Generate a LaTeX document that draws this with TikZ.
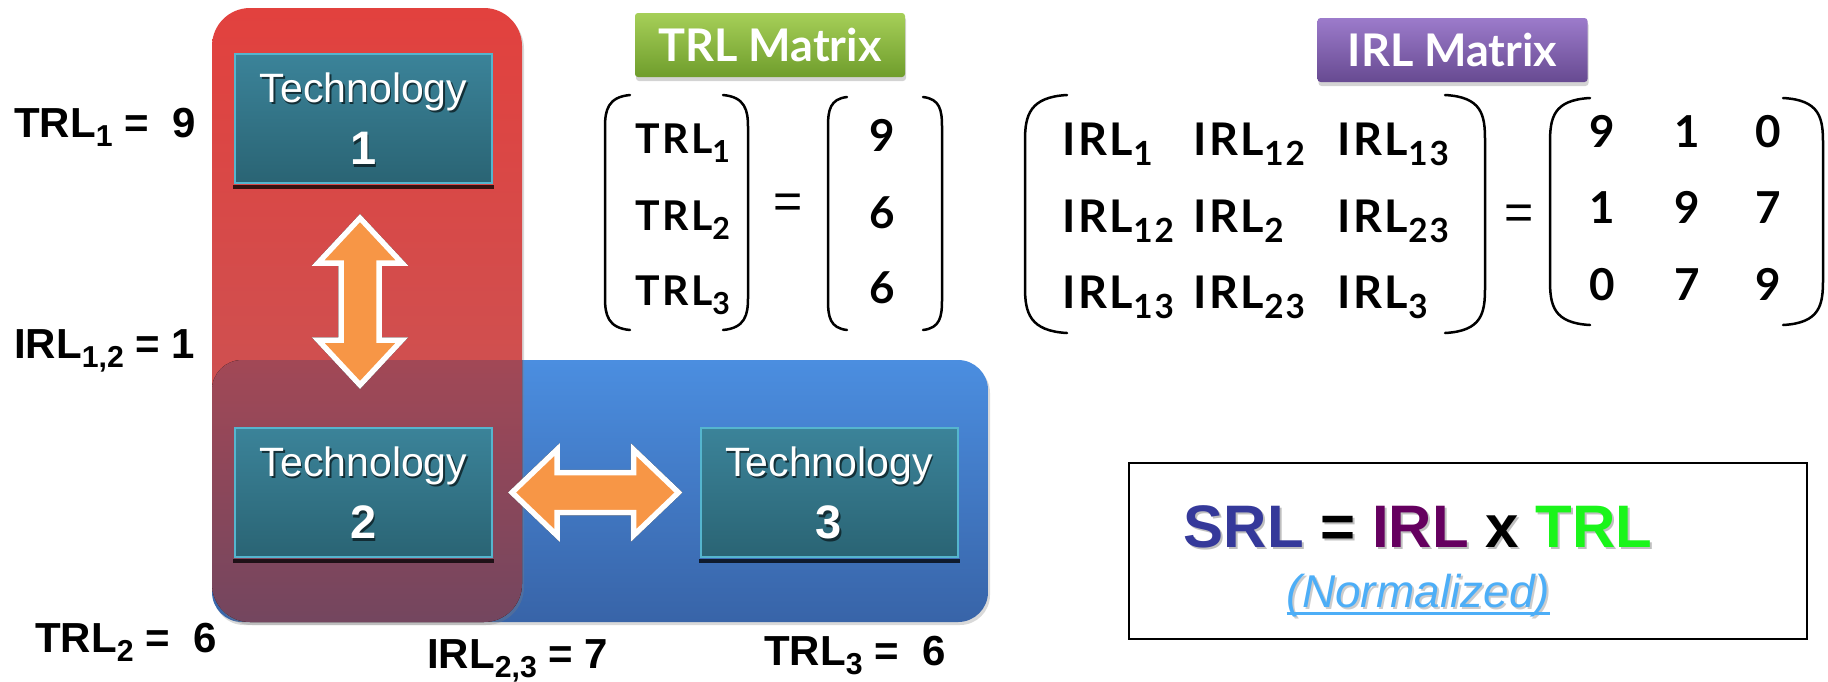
\documentclass[tikz,border=0pt]{standalone}
\usepackage{fontspec}
\setmainfont{Liberation Sans}
\newfontfamily\mfont[LetterSpace=6]{Lato}
\usetikzlibrary{calc,shadows}
\definecolor{redtop}{HTML}{E2413E}
\definecolor{redbot}{HTML}{C25A5C}
\definecolor{bluetop}{HTML}{4B8EE0}
\definecolor{bluebot}{HTML}{3864A8}
\definecolor{ovtop}{HTML}{A24856}
\definecolor{ovbot}{HTML}{72465F}
\definecolor{techtop}{HTML}{3B8399}
\definecolor{techbot}{HTML}{2A6474}
\definecolor{techedge}{HTML}{55B5CE}
\definecolor{arrorange}{HTML}{F79646}
\definecolor{gtop}{HTML}{A6CF58}
\definecolor{gbot}{HTML}{6F9D2C}
\definecolor{ptop}{HTML}{9C7BCB}
\definecolor{pbot}{HTML}{674A91}
\definecolor{srlc}{HTML}{35399A}
\definecolor{irlc}{HTML}{65005F}
\definecolor{trlc}{HTML}{1AF51A}
\definecolor{normc}{HTML}{4DAEF7}
\newcommand\sbs[2][0.72]{\raisebox{-0.23em}{\scalebox{#1}{#2}}}
\tikzset{
  lbl/.style={inner sep=0pt, anchor=base west, font=\fontsize{42}{48}\selectfont\bfseries},
  techbox/.style={draw=techedge, line width=2pt, top color=techtop, bottom color=techbot,
    minimum width=257pt, minimum height=129pt, inner sep=0pt},
  techtxt/.style={inner sep=0pt, anchor=base, text=white, font=\fontsize{41}{46}\selectfont},
  technum/.style={inner sep=0pt, anchor=base, text=white, font=\fontsize{47}{52}\selectfont\bfseries},
  techshd/.style={text=black!70!techbot, opacity=0.8},
  fatarrow/.style={fill=arrorange, draw=white, line width=5.5pt, line join=miter},
  fatshadow/.style={fill=black, draw=black, line width=5.5pt, line join=miter},
  badge/.style={inner sep=0pt, minimum width=270pt, minimum height=64pt, rounded corners=3pt,
    text=white, font=\fontsize{45}{50}\selectfont\mfont\addfontfeature{LetterSpace=0}\bfseries,
    drop shadow={opacity=0.35, shadow xshift=1pt, shadow yshift=-4pt}},
  tm/.style={inner sep=0pt, anchor=base west, font=\fontsize{41}{46}\selectfont\mfont\bfseries},
  im/.style={inner sep=0pt, anchor=base west, font=\fontsize{45}{50}\selectfont\mfont\bfseries},
  vm/.style={inner sep=0pt, anchor=base, font=\fontsize{44}{48}\selectfont\mfont\bfseries},
  eqs/.style={inner sep=0pt, anchor=center, font=\fontsize{50}{56}\selectfont},
  paren/.style={line width=2.5pt, line cap=round},
}
\begin{document}
\begin{tikzpicture}[x=1pt,y=-1pt]
\useasboundingbox (0,0) rectangle (1828,681);
% containers
\path[top color=bluetop, bottom color=bluebot, rounded corners=30pt,
  drop shadow={opacity=0.3, shadow xshift=2pt, shadow yshift=-3pt}] (212,360) rectangle (988,622);
\path[top color=redtop, bottom color=redbot, rounded corners=38pt,
  drop shadow={opacity=0.3, shadow xshift=2pt, shadow yshift=-3pt}] (212,8) rectangle (522,622);
\begin{scope}
  \clip[rounded corners=30pt] (212,360) rectangle (988,622);
  \clip[rounded corners=38pt] (212,8) rectangle (522,622);
  \fill[top color=ovtop, bottom color=ovbot] (200,358) rectangle (530,630);
\end{scope}
% technology boxes
\node[techbox] (t1) at (363.5,118.5) {};
\node[techbox] (t2) at (363.5,492.5) {};
\node[techbox] (t3) at (829,492.5) {};
\foreach \n/\k in {t1/1,t2/2,t3/3}{
  \fill[black, opacity=0.75] ($(\n.south west)+(-1,1)$) rectangle ($(\n.south east)+(1,5)$);
  \node[techtxt, techshd] (\n-s1) at ($(\n.north)+(1.5,51.5)$) {Technology};
  \node[techtxt] (\n-l1) at ($(\n.north)+(0,49)$) {Technology};
  \node[technum, techshd] (\n-s2) at ($(\n.north)+(1.5,114)$) {\k};
  \node[technum] (\n-l2) at ($(\n.north)+(0,111.5)$) {\k};
}
% fat double arrows
\coordinate (va) at ($(t1.south)+(-3.5,34)$);
\coordinate (vb) at ($(t2.north)+(-3.5,-42)$);
\coordinate (ha) at ($(t2.east)+(19,0)$);
\coordinate (hb) at ($(t3.west)+(-21,0)$);
\begin{scope}[shift={(2.5,2.5)}]
\path[fatshadow] (va) -- ++(42,45) -- ++(-23,0) -- ($(vb)+(19,-45)$) -- ++(23,0) -- (vb)
  -- ++(-42,-45) -- ++(23,0) -- ($(va)+(-19,45)$) -- ++(-23,0) -- cycle;
\path[fatshadow] (ha) -- ++(45,-43) -- ++(0,23) -- ($(hb)+(-45,-20)$) -- ++(0,-23) -- (hb)
  -- ++(-45,43) -- ++(0,-23) -- ($(ha)+(45,20)$) -- ++(0,23) -- cycle;
\end{scope}
\path[fatarrow] (va) -- ++(42,45) -- ++(-23,0) -- ($(vb)+(19,-45)$) -- ++(23,0) -- (vb)
  -- ++(-42,-45) -- ++(23,0) -- ($(va)+(-19,45)$) -- ++(-23,0) -- cycle;
\path[fatarrow] (ha) -- ++(45,-43) -- ++(0,23) -- ($(hb)+(-45,-20)$) -- ++(0,-23) -- (hb)
  -- ++(-45,43) -- ++(0,-23) -- ($(ha)+(45,20)$) -- ++(0,23) -- cycle;
% labels
\node[lbl] (l1) at (14,137) {TRL\sbs{1} =\ \ 9};
\node[lbl] (l2) at (14,358) {IRL\sbs{1,2} = 1};
\node[lbl] (l3) at (35,652) {TRL\sbs{2} =\ \ 6};
\node[lbl] (l4) at (427,668) {IRL\sbs{2,3} = 7};
\node[lbl] (l5) at (764,665) {TRL\sbs{3} =\ \ 6};
% badges
\node[badge, top color=gtop, bottom color=gbot] (trlb) at (770,45) {TRL Matrix};
\node[badge, top color=ptop, bottom color=pbot] (irlb) at (1452.5,50) {IRL Matrix};
% TRL vector
\node[tm] (tr1) at (635,153) {TRL\sbs[0.74]{1}};
\node[tm] (tr2) at (635,230) {TRL\sbs[0.74]{2}};
\node[tm] (tr3) at (635,305) {TRL\sbs[0.74]{3}};
\node[eqs] (teq) at (788.5,206) {=};
\node[vm] (tv1) at (882,151) {9};
\node[vm] (tv2) at (882,228) {6};
\node[vm] (tv3) at (882,303) {6};
\draw[paren] (630,95) .. controls (608,97) and (605,110) .. (605,127) -- (605,298) .. controls (605,315) and (608,328) .. (630,330);
\draw[paren] (723,95) .. controls (745,97) and (748,110) .. (748,127) -- (748,298) .. controls (748,315) and (745,328) .. (723,330);
\draw[paren] (847,97) .. controls (830,99) and (828,110) .. (828,127) -- (828,300) .. controls (828,317) and (830,328) .. (847,330);
\draw[paren] (923,97) .. controls (940,99) and (942,110) .. (942,127) -- (942,300) .. controls (942,317) and (940,328) .. (923,330);
% IRL matrix
\node[im] (i11) at (1062,155) {IRL\sbs[0.74]{1}};
\node[im] (i12) at (1193,155) {IRL\sbs[0.74]{12}};
\node[im] (i13) at (1337,155) {IRL\sbs[0.74]{13}};
\node[im] (i21) at (1062,232) {IRL\sbs[0.74]{12}};
\node[im] (i22) at (1193,232) {IRL\sbs[0.74]{2}};
\node[im] (i23) at (1337,232) {IRL\sbs[0.74]{23}};
\node[im] (i31) at (1062,308) {IRL\sbs[0.74]{13}};
\node[im] (i32) at (1193,308) {IRL\sbs[0.74]{23}};
\node[im] (i33) at (1337,308) {IRL\sbs[0.74]{3}};
\node[eqs] (ieq) at (1519.5,217) {=};
\node[vm] (v11) at (1602,147) {9};
\node[vm] (v12) at (1687,147) {1};
\node[vm] (v13) at (1768,147) {0};
\node[vm] (v21) at (1602,223) {1};
\node[vm] (v22) at (1687,223) {9};
\node[vm] (v23) at (1768,223) {7};
\node[vm] (v31) at (1602,300) {0};
\node[vm] (v32) at (1687,300) {7};
\node[vm] (v33) at (1768,300) {9};
\draw[paren] (1067,95) .. controls (1030,97) and (1025,115) .. (1025,140) -- (1025,288) .. controls (1025,313) and (1030,331) .. (1067,333);
\draw[paren] (1445,95) .. controls (1482,97) and (1485,115) .. (1485,140) -- (1485,288) .. controls (1485,313) and (1482,331) .. (1445,333);
\draw[paren] (1590,98) .. controls (1553,100) and (1550,118) .. (1550,143) -- (1550,280) .. controls (1550,305) and (1553,323) .. (1590,325);
\draw[paren] (1783,98) .. controls (1820,100) and (1823,118) .. (1823,143) -- (1823,280) .. controls (1823,305) and (1820,323) .. (1783,325);
% SRL box
\node[draw, line width=2pt, minimum width=678pt, minimum height=176pt, inner sep=0pt] (srl) at (1468,551) {};
\node[inner sep=0pt, anchor=base, text=black!25, font=\fontsize{60}{70}\selectfont\bfseries] (srls) at (1420,549) {SRL = IRL x TRL};
\node[inner sep=0pt, anchor=base, font=\fontsize{60}{70}\selectfont\bfseries] (srlt) at (1418,547)
  {\textcolor{srlc}{SRL} = \textcolor{irlc}{IRL} x \textcolor{trlc}{TRL}};
\node[inner sep=0pt, anchor=base, text=black!20, font=\fontsize{46}{50}\selectfont\itshape] (norms) at (1420.5,609.5) {(Normalized)};
\node[inner sep=0pt, anchor=base, text=normc, font=\fontsize{46}{50}\selectfont\itshape] (norm) at (1418.5,607) {(Normalized)};
\draw[normc, line width=3pt] ($(norm.base west)+(0,6)$) -- ($(norm.base east)+(0,6)$);
\end{tikzpicture}
\end{document}
